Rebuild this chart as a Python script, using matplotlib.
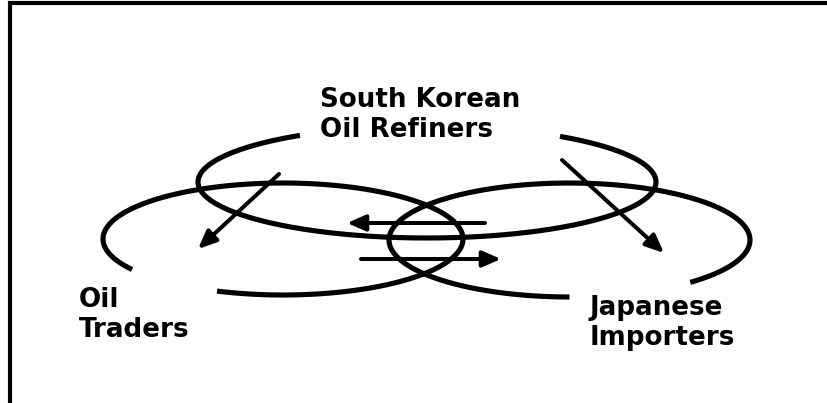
import numpy as np
import matplotlib
matplotlib.use("Agg")
import matplotlib.pyplot as plt
from matplotlib.patches import FancyArrowPatch

# Diagram content (pixel-space coordinates, y downward)
groups = ["South Korean\nOil Refiners", "Oil\nTraders", "Japanese\nImporters"]
label_x = [320, 79, 590]
label_baseline = [107, 307, 315]

# ellipses: centre x, centre y, semi-axis x, semi-axis y, drawn param range (deg)
ell_cx = [427, 283, 569.5]
ell_cy = [182, 239, 240]
ell_a = [229, 180, 180.5]
ell_b = [56, 56, 57]
ell_t_start = [305.5, 147, 90]
ell_t_end = [596.3, 471.5, 408]

# arrows: start (x, y) -> tip (x, y)
arr_x0 = [279, 562, 485, 361]
arr_y0 = [174, 160, 223, 259]
arr_x1 = [198, 664, 347, 501]
arr_y1 = [249, 253, 223, 259]

W, H = 827, 403
fig = plt.figure(figsize=(W / 100, H / 100), dpi=100)
ax = fig.add_axes([0, 0, 1, 1])
ax.set_xlim(0, W)
ax.set_ylim(H, 0)
ax.axis("off")

# frame (left and top edges visible)
ax.plot([10, 10, W + 5], [H + 5, 3, 3], color="black", lw=3.0,
        solid_joinstyle="miter", solid_capstyle="butt")

for cx, cy, a, b, t0, t1 in zip(ell_cx, ell_cy, ell_a, ell_b, ell_t_start, ell_t_end):
    t = np.deg2rad(np.linspace(t0, t1, 400))
    ax.plot(cx + a * np.cos(t), cy + b * np.sin(t), color="black", lw=3.7,
            solid_capstyle="butt")

for x0, y0, x1, y1 in zip(arr_x0, arr_y0, arr_x1, arr_y1):
    ax.add_patch(FancyArrowPatch((x0, y0), (x1, y1),
                                 arrowstyle="-|>,head_length=0.55,head_width=0.24",
                                 mutation_scale=20, lw=2.9, color="black",
                                 shrinkA=0, shrinkB=0))

for lab, x, y in zip(groups, label_x, label_baseline):
    for i, line in enumerate(lab.split("\n")):
        ax.text(x, y + 30 * i, line, fontsize=18.8, fontweight="bold",
                family="DejaVu Sans", ha="left", va="baseline", color="black")

fig.savefig("out.png", dpi=100)
